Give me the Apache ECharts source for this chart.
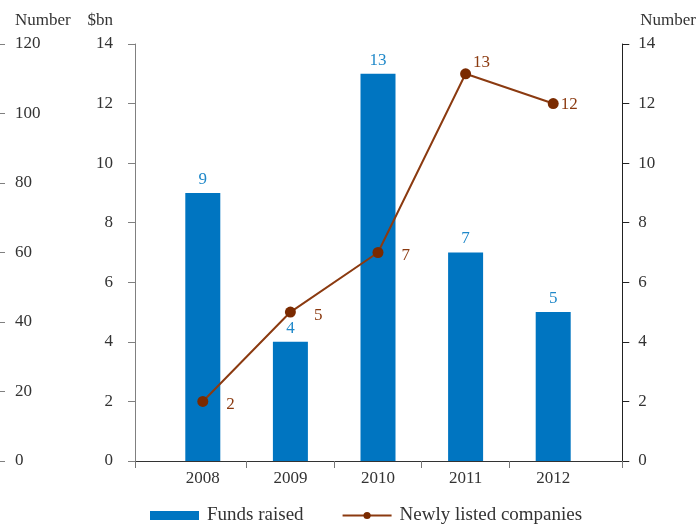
<!DOCTYPE html>
<html>
<head>
<meta charset="utf-8">
<script src="https://cdn.jsdelivr.net/npm/echarts@6/dist/echarts.min.js"></script>
<style>
  html, body { margin: 0; padding: 0; background: #fff; }
  #chart { width: 699px; height: 525px; }
</style>
</head>
<body>
<div id="chart"></div>
<script>
// data
const years = ['2008', '2009', '2010', '2011', '2012'];
const fundsRaised = [9, 4, 13, 7, 5];          // $bn, bars
const newlyListed = [2, 5, 7, 13, 12];         // line, read on right axis

const font = 'Liberation Serif';
const fs = 17;
const textColor = '#333';
const barColor = '#0075c1';
const lineColor = '#8b3a10';

// label placement of the line points
const linePlaces = ['right', 'right', 'right', 'top', 'right'];

const chart = echarts.init(document.getElementById('chart'));

const option = {
  textStyle: { fontFamily: font, fontSize: fs, color: textColor },
  grid: [
    { left: 159, right: 102, top: 44, bottom: 64 },   // bars + line
    { left: 135, right: 74, top: 44, bottom: 64 },    // frame axes
    { left: 159, right: 190, top: 44, bottom: 64 }    // only the inner x ticks
  ],
  legend: {
    left: 150,
    top: 506,
    padding: 0,
    itemGap: 38,
    itemWidth: 49,
    itemHeight: 9,
    textStyle: { fontFamily: font, fontSize: 19, color: textColor, padding: [0, 0, 0, 3] },
    data: [
      { name: 'Funds raised', icon: 'rect' },
      { name: 'Newly listed companies' }
    ]
  },
  xAxis: [
    {
      type: 'category',
      gridIndex: 0,
      data: years,
      axisLine: { show: false },
      axisTick: { show: false },
      axisLabel: { margin: 9, fontFamily: font, fontSize: fs, color: textColor }
    },
    {
      type: 'category',
      gridIndex: 1,
      data: [''],
      axisLine: { show: true, lineStyle: { color: '#333', width: 1 } },
      axisTick: { show: true, length: 7, lineStyle: { color: '#777' } },
      axisLabel: { show: false }
    },
    {
      type: 'category',
      gridIndex: 2,
      data: years.slice(0, 4),
      axisLine: { show: false },
      axisTick: {
        show: true,
        length: 7,
        interval: function (i) { return i >= 1; },
        lineStyle: { color: '#777' }
      },
      axisLabel: { show: false }
    }
  ],
  yAxis: [
    {
      type: 'value',
      gridIndex: 0,
      min: 0, max: 14, interval: 2,
      show: false,
      splitLine: { show: false }
    },
    {
      type: 'value',
      gridIndex: 1,
      position: 'left',
      min: 0, max: 14, interval: 2,
      name: '$bn',
      nameLocation: 'end',
      nameGap: 15,
      nameTextStyle: { fontFamily: font, fontSize: fs, color: textColor, align: 'right', padding: [0, 22, 0, 0] },
      axisLine: { show: true, lineStyle: { color: '#808080' } },
      axisTick: { show: true, length: 7, lineStyle: { color: '#808080' } },
      axisLabel: { margin: 22, fontFamily: font, fontSize: fs, color: textColor },
      splitLine: { show: false }
    },
    {
      type: 'value',
      gridIndex: 1,
      position: 'right',
      min: 0, max: 14, interval: 2,
      name: 'Number',
      nameLocation: 'end',
      nameGap: 15,
      nameTextStyle: { fontFamily: font, fontSize: fs, color: textColor, align: 'left', padding: [0, 0, 0, 18] },
      axisLine: { show: true, lineStyle: { color: '#222' } },
      axisTick: { show: true, length: 7, lineStyle: { color: '#222' } },
      axisLabel: { margin: 16, fontFamily: font, fontSize: fs, color: textColor },
      splitLine: { show: false }
    },
    {
      type: 'value',
      gridIndex: 1,
      position: 'left',
      offset: 130,
      min: 0, max: 120, interval: 20,
      name: 'Number',
      nameLocation: 'end',
      nameGap: 15,
      nameTextStyle: { fontFamily: font, fontSize: fs, color: textColor, align: 'left', padding: [0, 0, 0, 10] },
      axisLine: { show: false },
      axisTick: { show: true, length: 6, lineStyle: { color: '#808080' } },
      axisLabel: { inside: true, margin: 10, fontFamily: font, fontSize: fs, color: textColor },
      splitLine: { show: false }
    },
    {
      type: 'value',
      gridIndex: 2,
      min: 0, max: 14,
      show: false
    }
  ],
  series: [
    {
      name: 'Funds raised',
      type: 'bar',
      xAxisIndex: 0,
      yAxisIndex: 0,
      barWidth: 35,
      data: fundsRaised,
      itemStyle: { color: barColor },
      label: {
        show: true,
        position: 'top',
        distance: 5,
        fontFamily: font,
        fontSize: fs,
        color: '#1f88c9'
      }
    },
    {
      name: 'Newly listed companies',
      type: 'line',
      xAxisIndex: 0,
      yAxisIndex: 0,
      data: newlyListed.map(function (v, i) {
        const pos = linePlaces[i];
        return {
          value: v,
          label: pos === 'top'
            ? { position: 'top', offset: [16, 8] }
            : { position: 'right', distance: i === 4 ? 2 : 18, offset: [0, i === 4 ? 1 : 3] }
        };
      }),
      symbol: 'circle',
      symbolSize: 11,
      lineStyle: { color: lineColor, width: 2 },
      itemStyle: { color: '#7a2a00' },
      label: {
        show: true,
        fontFamily: font,
        fontSize: fs,
        color: lineColor
      },
      z: 3
    }
  ]
};

chart.setOption(option);
</script>
</body>
</html>
